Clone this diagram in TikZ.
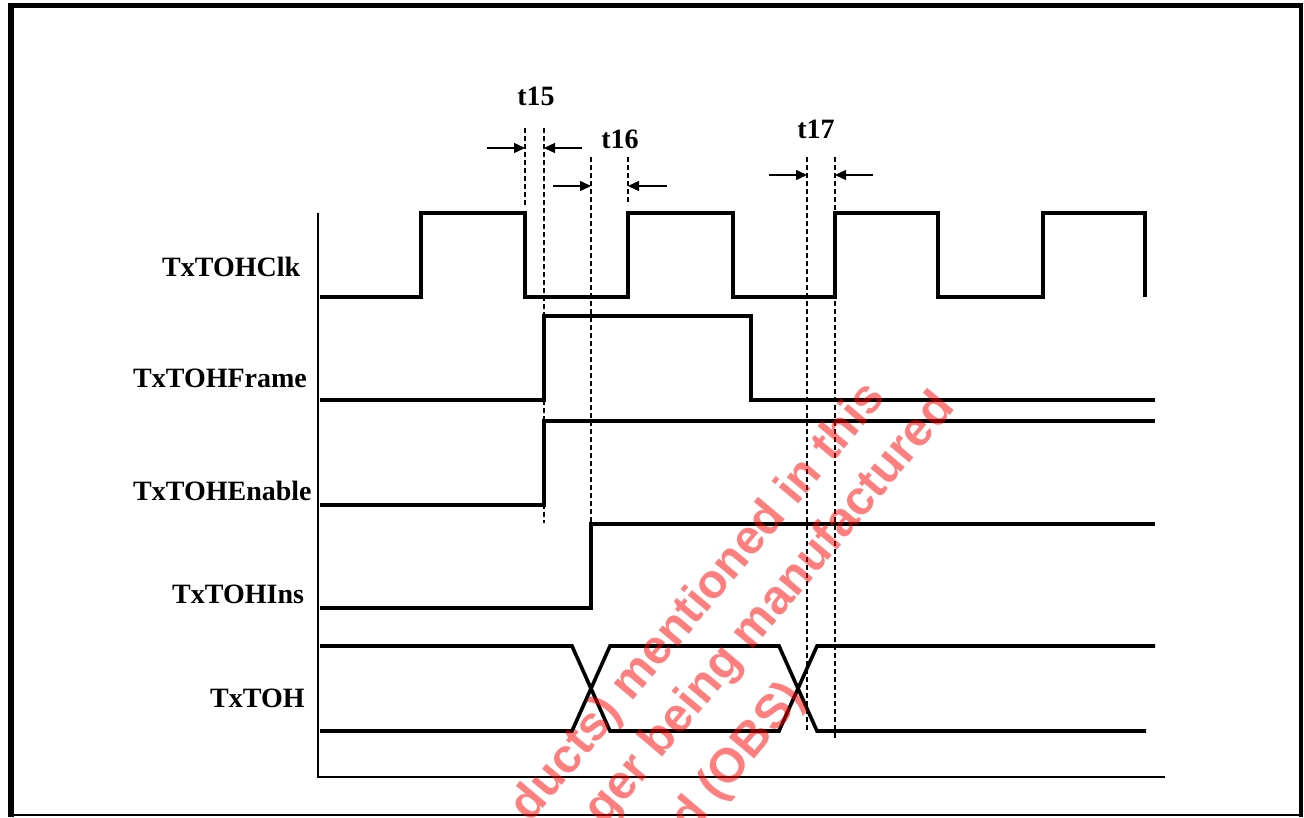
\documentclass[tikz,border=0pt]{standalone}
\usepackage{fontspec}
\setmainfont{Liberation Serif}
\newfontfamily\wmfont{Liberation Sans}
\usetikzlibrary{arrows.meta}
\begin{document}
\begin{tikzpicture}[x=1pt,y=-1pt,
  sig/.style={line width=3.6pt, line join=miter},
  ax/.style={line width=1.3pt},
  guide/.style={line width=1.1pt, dash pattern=on 5pt off 3pt},
  meas/.style={line width=1.4pt, -{Triangle[length=11pt,width=10pt]}},
  lbl/.style={font=\fontsize{28}{32}\selectfont\bfseries, inner sep=0pt},
  wm/.style={font=\wmfont\fontsize{48}{54}\selectfont\bfseries, text=red, opacity=0.5, rotate=50, inner sep=0pt}
]
\useasboundingbox (0,0) rectangle (1304,817);
\clip (0,0) rectangle (1304,817);
\fill[white] (0,0) rectangle (1304,817);
% frame
\fill (8,3) rectangle (1303,8);
\fill (8,3) rectangle (14,817);
\fill (1299,3) rectangle (1303,817);
\fill (8,814) rectangle (1303,816);
% labels
\node[lbl, anchor=base west] (lclk) at (162,276) {TxTOHClk};
\node[lbl, anchor=base west] (lfrm) at (133,387) {TxTOHFrame};
\node[lbl, anchor=base west] (lenb) at (133,500) {TxTOHEnable};
\node[lbl, anchor=base west] (lins) at (172,603) {TxTOHIns};
\node[lbl, anchor=base west] (ltoh) at (210,707) {TxTOH};
\node[lbl, anchor=base] (t15) at (536,105) {t15};
\node[lbl, anchor=base] (t16) at (620,148) {t16};
\node[lbl, anchor=base] (t17) at (816,138) {t17};
% axes
\coordinate (axtop) at (318,213);
\coordinate (axo) at (318,777);
\coordinate (axend) at (1165,777);
\draw[ax] (axtop) -- (axo) -- (axend);
% guides
\coordinate (g1a) at (525,128); \coordinate (g1b) at (525,205);
\coordinate (g2a) at (544,128); \coordinate (g2b) at (544,523);
\coordinate (g3a) at (591,157); \coordinate (g3b) at (591,524);
\coordinate (g4a) at (628,157); \coordinate (g4b) at (628,205);
\coordinate (g5a) at (807,157); \coordinate (g5b) at (807,730);
\coordinate (g6a) at (835,157); \coordinate (g6b) at (835,740);
\foreach \g in {1,...,6} \draw[guide] (g\g a) -- (g\g b);
% measurement arrows
\coordinate (m15l) at (487,148); \coordinate (m15lt) at (525,148);
\coordinate (m15r) at (582,148); \coordinate (m15rt) at (544,148);
\coordinate (m16l) at (553,186); \coordinate (m16lt) at (591,186);
\coordinate (m16r) at (667,186); \coordinate (m16rt) at (628,186);
\coordinate (m17l) at (769,175); \coordinate (m17lt) at (807,175);
\coordinate (m17r) at (873,175); \coordinate (m17rt) at (835,175);
\draw[meas] (m15l) -- (m15lt);
\draw[meas] (m15r) -- (m15rt);
\draw[meas] (m16l) -- (m16lt);
\draw[meas] (m16r) -- (m16rt);
\draw[meas] (m17l) -- (m17lt);
\draw[meas] (m17r) -- (m17rt);
% signals
\draw[sig] (320,297) -- (421,297) -- (421,213) -- (525,213) -- (525,297) -- (628,297) -- (628,213) -- (733,213) -- (733,297) -- (835,297) -- (835,213) -- (938,213) -- (938,297) -- (1043,297) -- (1043,213) -- (1145,213) -- (1145,297);
\draw[sig] (320,400) -- (544,400) -- (544,316) -- (751,316) -- (751,400) -- (1155,400);
\draw[sig] (320,505) -- (544,505) -- (544,421) -- (1155,421);
\draw[sig] (320,608) -- (591,608) -- (591,524) -- (1155,524);
\draw[sig] (320,646) -- (572,646) -- (610,731) -- (779,731) -- (817,646) -- (1155,646);
\draw[sig] (320,731) -- (572,731) -- (610,646) -- (779,646) -- (817,731) -- (1146,731);
% watermark
\node[wm, anchor=base east] (wm1) at (887,398) {ducts) mentioned in this};
\node[wm, anchor=base east] (wm2) at (956,408) {ger being manufactured};
\node[wm, anchor=base east] (wm3) at (806,698) {d (OBS)};
\end{tikzpicture}
\end{document}
